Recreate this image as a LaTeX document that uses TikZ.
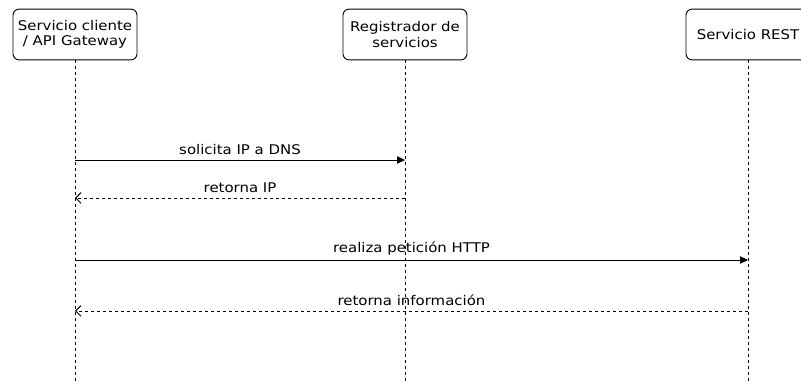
\documentclass[tikz,border=0pt]{standalone}
\usepackage{fontspec}
\setmainfont[FakeStretch=1.12]{DejaVu Sans}
\usetikzlibrary{arrows.meta}

\begin{document}
\begin{tikzpicture}[x=0.75pt, y=-0.75pt, font=\fontsize{10}{11.5}\selectfont,
		actor/.style={draw, rounded corners=4.5pt, minimum width=93pt, minimum height=38pt, align=center, line width=0.7pt, inner sep=2pt},
		lifeline/.style={dash pattern=on 2.25pt off 2.25pt, line width=0.6pt},
		call/.style={-{Triangle[length=6pt, width=5.5pt]}, line width=0.7pt},
		reply/.style={-{Straight Barb[length=4pt, width=8pt]}, dash pattern=on 2.25pt off 2.25pt, line width=0.7pt}]
			\useasboundingbox (0,0) rectangle (801,384);
			\clip (0,0) rectangle (801,384);
			\node[actor] (cl) at (75,  34.5)	{Servicio cliente\\/ API Gateway};
			\node[actor] (rg) at (405, 34.5)	{Registrador de\\servicios};
			\node[actor] (rs) at (748, 34.5)	{Servicio REST};
			
			\coordinate (clEnd) at (75,  384);
			\coordinate (rgEnd) at (405, 384);
			\coordinate (rsEnd) at (748, 384);
			\foreach \u in {cl, rg, rs}
			{	\draw[lifeline] (\u) -- (\u End);
			}
			
			\def\calls {cl/rg/160/solicita IP a DNS, cl/rs/260/realiza petición HTTP}  % requests
			\foreach \u\v\y\msg in \calls
			{	\coordinate (src) at (\u |- 0,\y);
				\coordinate (dst) at (\v |- 0,\y);
				\draw[call] (src) -- (dst) node [midway, above, inner sep=3.5pt] {\msg};
			}
			\def\replies {rg/cl/198/retorna IP, rs/cl/311/retorna información}  % answers
			\foreach \u\v\y\msg in \replies
			{	\coordinate (src) at (\u |- 0,\y);
				\coordinate (dst) at (\v |- 0,\y);
				\draw[reply] (src) -- (dst) node [midway, above, inner sep=3.5pt] {\msg};
			}
		\end{tikzpicture}
\end{document}
